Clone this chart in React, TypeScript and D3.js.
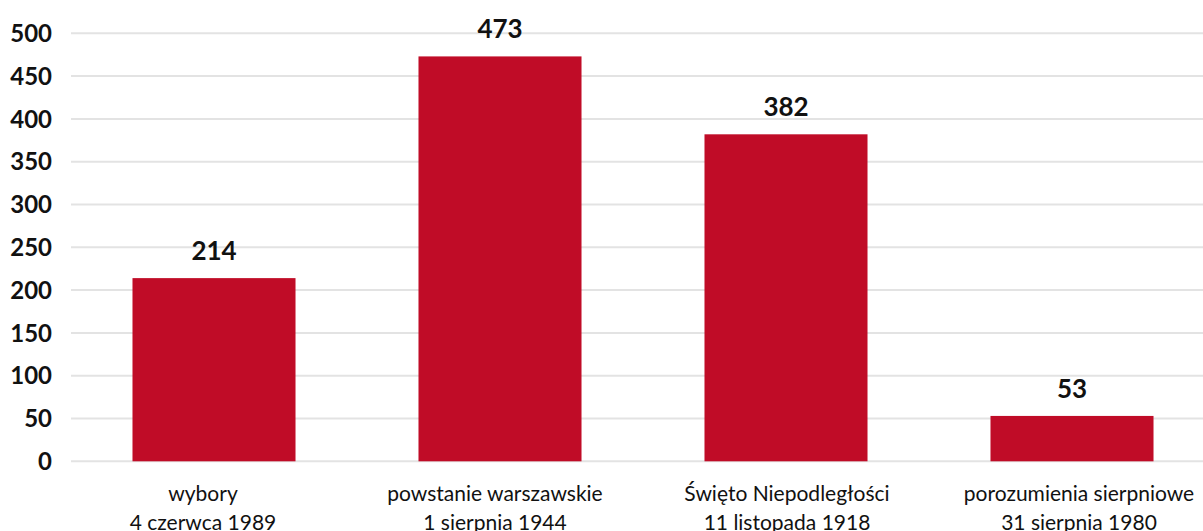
import React, { useEffect, useRef } from 'react';
import * as d3 from 'd3';

// values
const categories = [
  ['wybory', '4 czerwca 1989'],
  ['powstanie warszawskie', '1 sierpnia 1944'],
  ['Święto Niepodległości', '11 listopada 1918'],
  ['porozumienia sierpniowe', '31 sierpnia 1980'],
];
const values = [214, 473, 382, 53];
const yTicks = [0, 50, 100, 150, 200, 250, 300, 350, 400, 450, 500];

const W = 1203;
const H = 531;

const App = () => {
  const svgRef = useRef<SVGSVGElement>(null);

  useEffect(() => {
    const svg = d3.select(svgRef.current);
    svg.selectAll('*').remove();

    const left = 71;
    const x = d3.scaleBand<number>()
      .domain(values.map((_, i) => i))
      .range([left, left + 4 * 286])
      .paddingInner(0.43)
      .paddingOuter(0.215);

    // category labels sit on a slightly different spacing than the bars
    const xLabel = d3.scalePoint<number>()
      .domain(values.map((_, i) => i))
      .range([203, 1079]);

    const y = d3.scaleLinear()
      .domain([0, 500])
      .range([461.3, 33.3]);

    const font = 'Lato, "Open Sans", sans-serif';

    // gridlines
    svg.append('g')
      .selectAll('line')
      .data(yTicks)
      .enter()
      .append('line')
      .attr('x1', left)
      .attr('x2', W)
      .attr('y1', (d) => y(d))
      .attr('y2', (d) => y(d))
      .attr('stroke', '#e3e3e3')
      .attr('stroke-width', 2);

    // y tick labels
    svg.append('g')
      .selectAll('text')
      .data(yTicks)
      .enter()
      .append('text')
      .attr('x', 52)
      .attr('y', (d) => y(d))
      .attr('dy', '0.36em')
      .attr('text-anchor', 'end')
      .style('font-family', font)
      .style('font-weight', 'bold')
      .style('font-size', '24px')
      .style('fill', '#111')
      .text((d) => d);

    // bars
    svg.append('g')
      .selectAll('rect')
      .data(values)
      .enter()
      .append('rect')
      .attr('x', (d, i) => x(i)!)
      .attr('y', (d) => y(d))
      .attr('width', x.bandwidth())
      .attr('height', (d) => y(0) - y(d))
      .attr('fill', '#c00c27');

    // value labels
    svg.append('g')
      .selectAll('text')
      .data(values)
      .enter()
      .append('text')
      .attr('x', (d, i) => x(i)! + x.bandwidth() / 2)
      .attr('y', (d) => y(d) - 18)
      .attr('text-anchor', 'middle')
      .style('font-family', font)
      .style('font-weight', 'bold')
      .style('font-size', '26px')
      .style('fill', '#111')
      .text((d) => d);

    // category labels, two lines (second one runs off the bottom like the original)
    const cat = svg.append('g')
      .selectAll('text')
      .data(categories)
      .enter()
      .append('text')
      .attr('text-anchor', 'middle')
      .style('font-family', font)
      .style('font-size', '21px')
      .style('fill', '#111');

    cat.append('tspan')
      .attr('x', (d, i) => xLabel(i)!)
      .attr('y', 501)
      .text((d) => d[0]);
    cat.append('tspan')
      .attr('x', (d, i) => xLabel(i)!)
      .attr('y', 530)
      .text((d) => d[1]);
  }, []);

  return (
    <svg
      ref={svgRef}
      width={W}
      height={H}
      style={{ position: 'absolute', left: 0, top: 0, background: '#fff' }}
    />
  );
};

export default App;
